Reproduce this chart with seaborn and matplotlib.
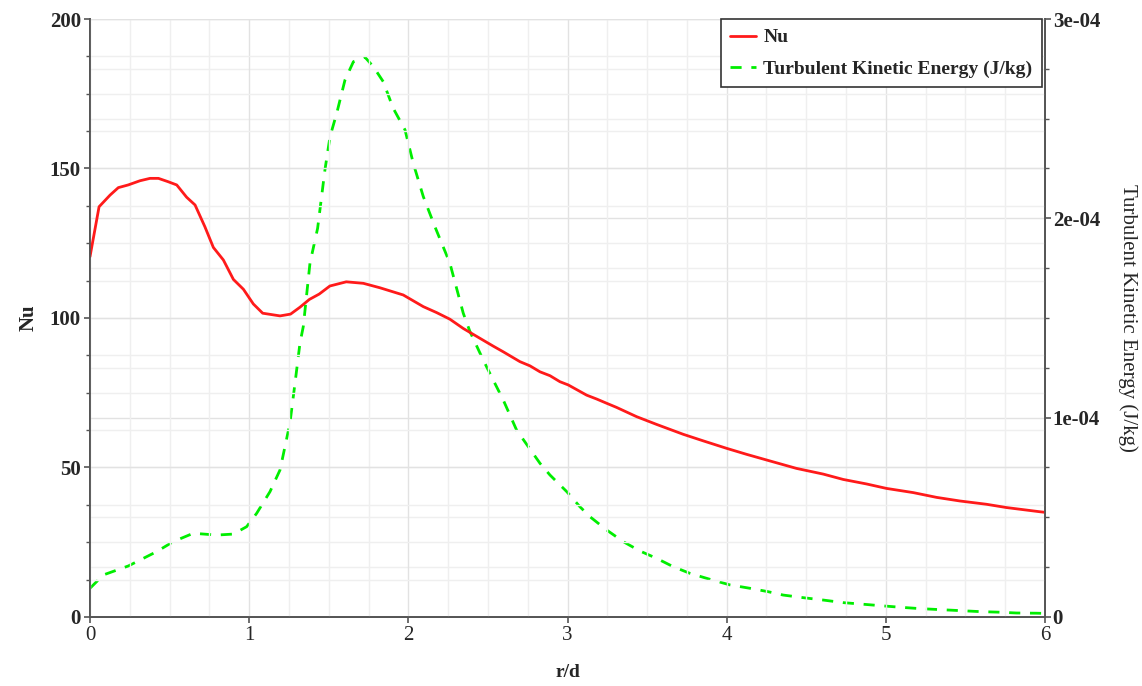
import matplotlib
matplotlib.use("Agg")
import matplotlib.pyplot as plt
import seaborn as sns
import pandas as pd
from matplotlib.ticker import MultipleLocator, FuncFormatter

# ---- data ----
nu_x = [0.0, 0.057, 0.126, 0.178, 0.24, 0.314, 0.377, 0.43, 0.49, 0.545, 0.607, 0.66,
        0.722, 0.775, 0.838, 0.901, 0.964, 1.026, 1.085, 1.194, 1.26, 1.319, 1.378,
        1.44, 1.507, 1.61, 1.717, 1.822, 1.968, 2.094, 2.178, 2.261, 2.345, 2.45,
        2.533, 2.596, 2.701, 2.764, 2.827, 2.89, 2.952, 3.005, 3.12, 3.183, 3.245,
        3.308, 3.434, 3.497, 3.56, 3.727, 3.853, 4.0, 4.125, 4.271, 4.438, 4.606,
        4.732, 4.878, 5.004, 5.172, 5.319, 5.465, 5.632, 5.758, 5.967, 6.0]
nu_y = [120.5, 137.2, 141.1, 143.6, 144.5, 145.9, 146.7, 146.7, 145.6, 144.5, 140.4, 137.8,
        130.5, 123.6, 119.4, 112.9, 109.6, 104.7, 101.6, 100.7, 101.3, 103.6, 106.2,
        108.0, 110.7, 112.1, 111.6, 110.1, 107.7, 103.8, 101.8, 99.6, 96.5, 93.2,
        90.6, 88.7, 85.4, 84.0, 82.0, 80.7, 78.7, 77.6, 74.2, 72.9, 71.5,
        70.1, 67.0, 65.7, 64.4, 61.1, 58.9, 56.4, 54.4, 52.2, 49.7, 47.8,
        46.0, 44.5, 43.0, 41.6, 40.0, 38.8, 37.7, 36.6, 35.2, 35.0]

tke_x = [0.0, 0.084, 0.241, 0.419, 0.523, 0.649, 0.796, 0.901, 0.984, 1.047, 1.131,
         1.194, 1.256, 1.288, 1.319, 1.34, 1.382, 1.43, 1.476, 1.508, 1.55, 1.602,
         1.655, 1.728, 1.78, 1.842, 1.905, 1.979, 2.031, 2.094, 2.167, 2.261, 2.345,
         2.387, 2.47, 2.533, 2.596, 2.68, 2.753, 2.827, 2.89, 2.995, 3.078, 3.141,
         3.245, 3.35, 3.455, 3.56, 3.665, 3.769, 3.895, 4.02, 4.146, 4.26, 4.355,
         4.48, 4.606, 4.732, 4.857, 4.962, 5.088, 5.214, 5.339, 5.465, 5.59, 5.716,
         5.82, 5.946, 6.0]
tke_y_e4 = [0.144, 0.211, 0.256, 0.328, 0.378, 0.42, 0.411, 0.416, 0.453, 0.52, 0.629,
            0.738, 0.972, 1.173, 1.373, 1.457, 1.775, 1.95, 2.243, 2.41, 2.527, 2.694,
            2.786, 2.808, 2.761, 2.686, 2.552, 2.444, 2.276, 2.109, 1.958, 1.775, 1.524,
            1.432, 1.29, 1.189, 1.089, 0.938, 0.855, 0.771, 0.712, 0.629, 0.553, 0.503,
            0.437, 0.378, 0.331, 0.294, 0.252, 0.219, 0.189, 0.161, 0.144, 0.127, 0.110,
            0.097, 0.085, 0.072, 0.064, 0.057, 0.049, 0.042, 0.037, 0.032, 0.027, 0.024,
            0.020, 0.019, 0.018]

nu_label = "Nu"
tke_label = "Turbulent Kinetic Energy (J/kg)"
x_label = "r/d"

df_nu = pd.DataFrame({"x": nu_x, "y": nu_y})
df_tke = pd.DataFrame({"x": tke_x, "y": [v * 1e-4 for v in tke_y_e4]})

sns.set_theme(style="white")
plt.rcParams["font.family"] = ["Liberation Serif", "DejaVu Serif"]

fig = plt.figure(figsize=(11.42, 6.86), dpi=100)
ax = fig.add_axes([0.0788, 0.1006, 0.8363, 0.8717])
ax2 = ax.twinx()
ax.set_zorder(ax2.get_zorder() + 1)
ax.patch.set_visible(False)

spine_c = "#555555"
grid_major = "#e2e2e2"
grid_minor = "#efefef"

# lines
sns.lineplot(data=df_tke, x="x", y="y", ax=ax2, color="#00ee00", lw=2.0,
             linestyle=(0, (4, 3.5)), label=tke_label, legend=False)
sns.lineplot(data=df_nu, x="x", y="y", ax=ax, color="#ff1a1a", lw=2.0,
             label=nu_label, legend=False)

ax.set_xlim(0, 6)
ax.set_ylim(0, 200)
ax2.set_ylim(0, 3e-4)

ax.xaxis.set_major_locator(MultipleLocator(1))
ax.xaxis.set_minor_locator(MultipleLocator(0.25))
ax.yaxis.set_major_locator(MultipleLocator(50))
ax.yaxis.set_minor_locator(MultipleLocator(12.5))
ax2.yaxis.set_major_locator(MultipleLocator(1e-4))
ax2.yaxis.set_minor_locator(MultipleLocator(2.5e-5))
ax2.yaxis.set_major_formatter(FuncFormatter(lambda v, p: "0" if abs(v) < 1e-12 else f"{v:.0e}"))

# grids
for a in (ax, ax2):
    a.grid(True, which="major", color=grid_major, lw=1.0)
    a.grid(True, which="minor", color=grid_minor, lw=1.0)
    a.set_axisbelow(True)
ax2.xaxis.grid(False, which="both")

for a in (ax, ax2):
    for s in a.spines.values():
        s.set_color(spine_c)
        s.set_linewidth(1.3)
    a.spines["top"].set_visible(False)

ax.tick_params(axis="both", which="major", direction="out", length=4, width=1.2,
               color=spine_c, labelsize=15, pad=2.5)
ax.tick_params(axis="both", which="minor", direction="out", length=3, width=1.0, color=spine_c)
ax.tick_params(axis="y", left=True, right=False)
ax.tick_params(axis="x", bottom=True)
ax2.tick_params(axis="y", which="major", direction="out", length=4, width=1.2,
                color=spine_c, labelsize=15, pad=1.5, right=True)
ax2.tick_params(axis="y", which="minor", direction="out", length=3, width=1.0,
                color=spine_c, right=True)

for lab in ax.get_yticklabels() + ax2.get_yticklabels():
    lab.set_fontweight("bold")

ax.set_xlabel(x_label, fontsize=14, fontweight="bold", labelpad=14)
ax.set_ylabel(nu_label, fontsize=15, fontweight="bold", labelpad=8)
ax2.set_ylabel(tke_label, fontsize=15, rotation=270, labelpad=27)

h1, l1 = ax.get_legend_handles_labels()
h2, l2 = ax2.get_legend_handles_labels()
leg = ax.legend(h1 + h2, l1 + l2, loc="upper right", bbox_to_anchor=(0.997, 1.0),
                borderaxespad=0.0,
                frameon=True, fancybox=False, framealpha=1, edgecolor="#333333",
                prop={"family": "Liberation Serif", "weight": "bold", "size": 14},
                handlelength=1.3, handletextpad=0.4, borderpad=0.5, labelspacing=0.7)
leg.get_frame().set_linewidth(1.2)

fig.savefig("out.png", dpi=100)
